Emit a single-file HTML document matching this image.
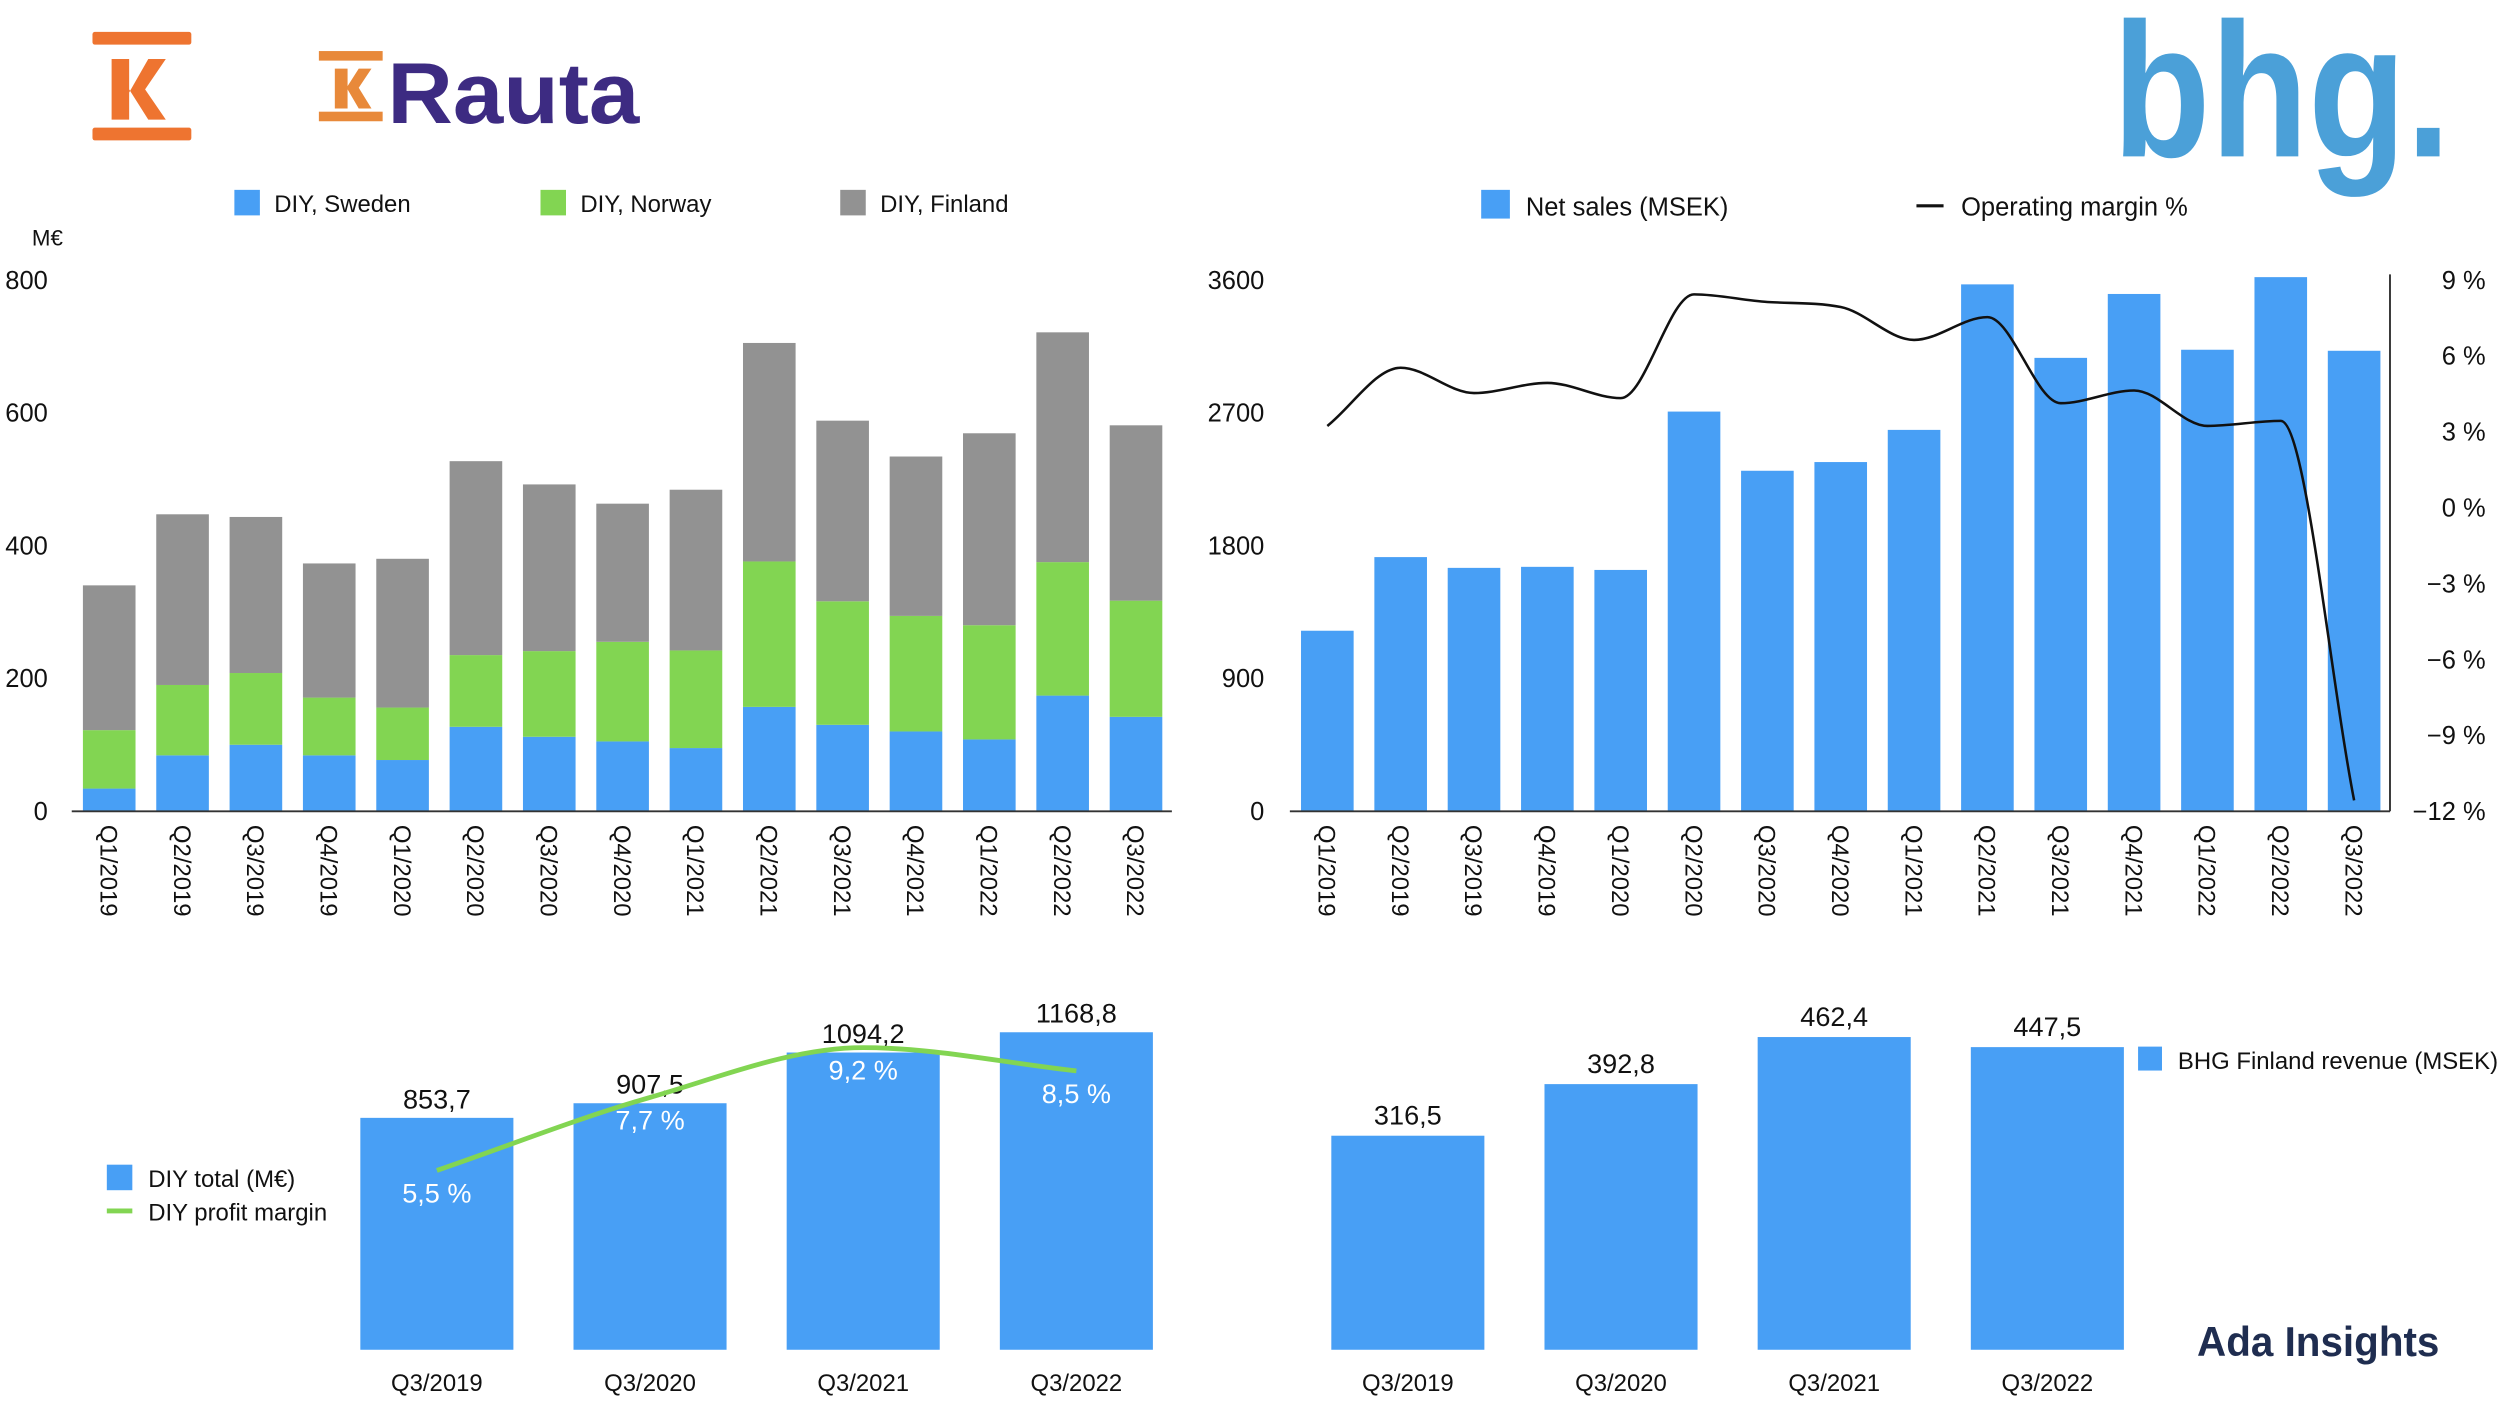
<!DOCTYPE html>
<html><head><meta charset="utf-8"><style>
html,body{margin:0;padding:0;background:#fff;}
svg{display:block;font-family:"Liberation Sans",sans-serif;}
</style></head><body>
<svg id="s" width="2500" height="1404" viewBox="0 0 1568 880" preserveAspectRatio="none" xmlns="http://www.w3.org/2000/svg">
<g fill="#ee7430">
<rect x="58" y="20" width="62" height="8" rx="1.5"/>
<rect x="58" y="80" width="62" height="8" rx="1.5"/>
<path d="M70 37 H81 V58 L93 37 H104 L91 56 L104 75 H93 L81 56 V75 H70 Z"/>
</g>
<g>
<rect x="200" y="32" width="40" height="6" fill="#e8893a"/>
<rect x="200" y="70" width="40" height="6" fill="#e8893a"/>
<path d="M210 43 H218 V54 L225 43 H233 L225 55 L233 68 H225 L218 56 V68 H210 Z" fill="#e8893a"/>
<text x="243" y="77" font-size="54" font-weight="bold" fill="#3d2b82" textLength="158" lengthAdjust="spacingAndGlyphs">Rauta</text>
</g>
<text x="1325" y="98" font-size="120" font-weight="bold" fill="#4ba0d8" textLength="212" lengthAdjust="spacingAndGlyphs">bhg.</text>
<text x="1378" y="850" font-size="26" font-weight="bold" fill="#1f2d50" textLength="152" lengthAdjust="spacingAndGlyphs">Ada Insights</text>
<g id="g"></g>
</svg>
<script>
// ---- DIY stacked chart data ----
const quarters=["Q1/2019","Q2/2019","Q3/2019","Q4/2019","Q1/2020","Q2/2020","Q3/2020","Q4/2020","Q1/2021","Q2/2021","Q3/2021","Q4/2021","Q1/2022","Q2/2022","Q3/2022"];
const diySweden=[33,83,99,83,76,126,111,104,94,156,129,119,107,173,141];
const diyNorway=[88,106,108,87,79,108,129,150,147,219,186,174,172,201,175];
const diyFinland=[218,257,235,202,224,292,251,208,242,329,272,240,289,346,264];
const diyTicks=[0,200,400,600,800];
// ---- BHG chart data ----
const bhgSales=[1218,1717,1644,1651,1630,2703,2302,2361,2579,3565,3067,3500,3122,3614,3115];
const bhgMargin=[3.2,5.5,4.5,4.9,4.3,8.4,8.1,7.9,6.6,7.5,4.1,4.6,3.2,3.4,-11.6];
const salesTicks=[0,900,1800,2700,3600];
const marginTicks=[9,6,3,0,-3,-6,-9,-12];
// ---- bottom charts data ----
const q3Labels=["Q3/2019","Q3/2020","Q3/2021","Q3/2022"];
const diyTotal=[853.7,907.5,1094.2,1168.8];
const diyTotalLabels=["853,7","907,5","1094,2","1168,8"];
const diyMargin=[5.5,7.7,9.2,8.5];
const diyMarginLabels=["5,5 %","7,7 %","9,2 %","8,5 %"];
const bhgFin=[316.5,392.8,462.4,447.5];
const bhgFinLabels=["316,5","392,8","462,4","447,5"];

const NS="http://www.w3.org/2000/svg";
const G=document.getElementById('g');
function mk(tag,attrs,parent,txt){const e=document.createElementNS(NS,tag);for(const k in attrs)e.setAttribute(k,attrs[k]);if(txt!==undefined)e.textContent=txt;(parent||G).appendChild(e);return e;}
const BLUE="#489ff5",GREEN="#82d552",GRAY="#929292";

// monotone cubic path
function smooth(p){const n=p.length;const d=[],m=[];for(let i=0;i<n-1;i++)d.push((p[i+1][1]-p[i][1])/(p[i+1][0]-p[i][0]));
m[0]=d[0];m[n-1]=d[n-2];for(let i=1;i<n-1;i++){m[i]=(d[i-1]*d[i]<=0)?0:(d[i-1]+d[i])/2;}
for(let i=0;i<n-1;i++){if(d[i]===0){m[i]=0;m[i+1]=0;continue;}const a=m[i]/d[i],b=m[i+1]/d[i],s=a*a+b*b;if(s>9){const t=3/Math.sqrt(s);m[i]=t*a*d[i];m[i+1]=t*b*d[i];}}
let s=`M${p[0][0]},${p[0][1]}`;for(let i=0;i<n-1;i++){const h=(p[i+1][0]-p[i][0])/3;s+=` C${p[i][0]+h},${p[i][1]+m[i]*h} ${p[i+1][0]-h},${p[i+1][1]-m[i+1]*h} ${p[i+1][0]},${p[i+1][1]}`;}return s;}

// ---- Left top chart ----
const yL=v=>508-v*(333/800);
const xL=i=>52+i*46;
for(const t of diyTicks){const e=mk('text',{x:30,y:yL(t)+6,'font-size':16,'text-anchor':'end',fill:'#111'},G,String(t));

}
{const e=mk('text',{x:20,y:154,'font-size':14,fill:'#111'},G,'M€');

}
quarters.forEach((q,i)=>{
  const segs=[[diySweden[i],BLUE,'sweden'],[diyNorway[i],GREEN,'norway'],[diyFinland[i],GRAY,'finland']];
  let acc=0;
  for(const [v,c,n] of segs){const r=mk('rect',{x:xL(i),y:yL(acc+v),width:33,height:yL(acc)-yL(acc+v),fill:c});
  
  
  acc+=v;}
  const t=mk('text',{x:0,y:0,'font-size':15,fill:'#111',transform:`translate(${xL(i)+11},517) rotate(90)`},G,q);
  
  
});
{const l=mk('line',{x1:45,y1:508.5,x2:735,y2:508.5,stroke:'#333','stroke-width':1.2});

}
[[147,'DIY, Sweden',BLUE],[339,'DIY, Norway',GREEN],[527,'DIY, Finland',GRAY]].forEach(([x,t,c])=>{
  const g=mk('g',{});
  
  
  mk('rect',{x:x,y:119,width:16,height:16,fill:c},g);
  mk('text',{x:x+25,y:133,'font-size':15,fill:'#111'},g,t);
});

// ---- Right top chart ----
const yS=v=>508-v*(333/3600);
const yM=m=>508-(m+12)*(333/21);
const xR=i=>816+i*46;
for(const t of salesTicks){const e=mk('text',{x:793,y:yS(t)+6,'font-size':16,'text-anchor':'end',fill:'#111'},G,String(t));

}
for(const t of marginTicks){const e=mk('text',{x:1559,y:yM(t)+6,'font-size':16,'text-anchor':'end',fill:'#111'},G,(t<0?'−'+(-t):t)+' %');

}
quarters.forEach((q,i)=>{
  const r=mk('rect',{x:xR(i),y:yS(bhgSales[i]),width:33,height:508-yS(bhgSales[i]),fill:BLUE});
  
  
  const t=mk('text',{x:0,y:0,'font-size':15,fill:'#111',transform:`translate(${xR(i)+11},517) rotate(90)`},G,q);
  
  
});
{const p=mk('path',{d:smooth(bhgMargin.map((m,i)=>[xR(i)+16.5,yM(m)])),fill:'none',stroke:'#111','stroke-width':1.6});

}
{const l=mk('line',{x1:809,y1:508.5,x2:1499,y2:508.5,stroke:'#333','stroke-width':1.2});


const l2=mk('line',{x1:1499,y1:172,x2:1499,y2:508.5,stroke:'#333','stroke-width':1.2});

}
{const g=mk('g',{});


mk('rect',{x:929,y:119,width:18,height:18,fill:BLUE},g);
mk('text',{x:957,y:135,'font-size':16,fill:'#111'},g,'Net sales (MSEK)');
const g2=mk('g',{});


mk('line',{x1:1202,y1:129,x2:1219,y2:129,stroke:'#111','stroke-width':2},g2);
mk('text',{x:1230,y:135,'font-size':16,fill:'#111'},g2,'Operating margin %');}

// ---- Bottom left ----
const yT=v=>846-v*(199/1168.8);
const xT=i=>226+i*133.7;
const yDM=m=>848-m*20.8;
q3Labels.forEach((q,i)=>{
  const r=mk('rect',{x:xT(i),y:yT(diyTotal[i]),width:96,height:846-yT(diyTotal[i]),fill:BLUE});
  
  
  const v=mk('text',{x:xT(i)+48,y:yT(diyTotal[i])-6,'font-size':17,'text-anchor':'middle',fill:'#111'},G,diyTotalLabels[i]);
  
  
  const x=mk('text',{x:xT(i)+48,y:872,'font-size':15,'text-anchor':'middle',fill:'#111'},G,q);
  
  
});
{const p=mk('path',{d:smooth(diyMargin.map((m,i)=>[xT(i)+48,yDM(m)])),fill:'none',stroke:GREEN,'stroke-width':3});

}
q3Labels.forEach((q,i)=>{
  const t=mk('text',{x:xT(i)+48,y:yDM(diyMargin[i])+20,'font-size':17,'text-anchor':'middle',fill:'#fff'},G,diyMarginLabels[i]);
  
  
});
{const g=mk('g',{});


mk('rect',{x:67,y:730,width:16,height:16,fill:BLUE},g);
mk('text',{x:93,y:744,'font-size':15,fill:'#111'},g,'DIY total (M€)');
const g2=mk('g',{});


mk('line',{x1:67,y1:759,x2:83,y2:759,stroke:GREEN,'stroke-width':3},g2);
mk('text',{x:93,y:765,'font-size':15,fill:'#111'},g2,'DIY profit margin');}

// ---- Bottom right ----
const yF=v=>846-v*(196/462.4);
const xF=i=>835+i*133.7;
q3Labels.forEach((q,i)=>{
  const r=mk('rect',{x:xF(i),y:yF(bhgFin[i]),width:96,height:846-yF(bhgFin[i]),fill:BLUE});
  
  
  const v=mk('text',{x:xF(i)+48,y:yF(bhgFin[i])-7,'font-size':17,'text-anchor':'middle',fill:'#111'},G,bhgFinLabels[i]);
  
  
  const x=mk('text',{x:xF(i)+48,y:872,'font-size':15,'text-anchor':'middle',fill:'#111'},G,q);
  
  
});
{const g=mk('g',{});


mk('rect',{x:1341,y:656,width:15,height:15,fill:BLUE},g);
mk('text',{x:1366,y:670,'font-size':15,fill:'#111'},g,'BHG Finland revenue (MSEK)');}
</script>
</body></html>
